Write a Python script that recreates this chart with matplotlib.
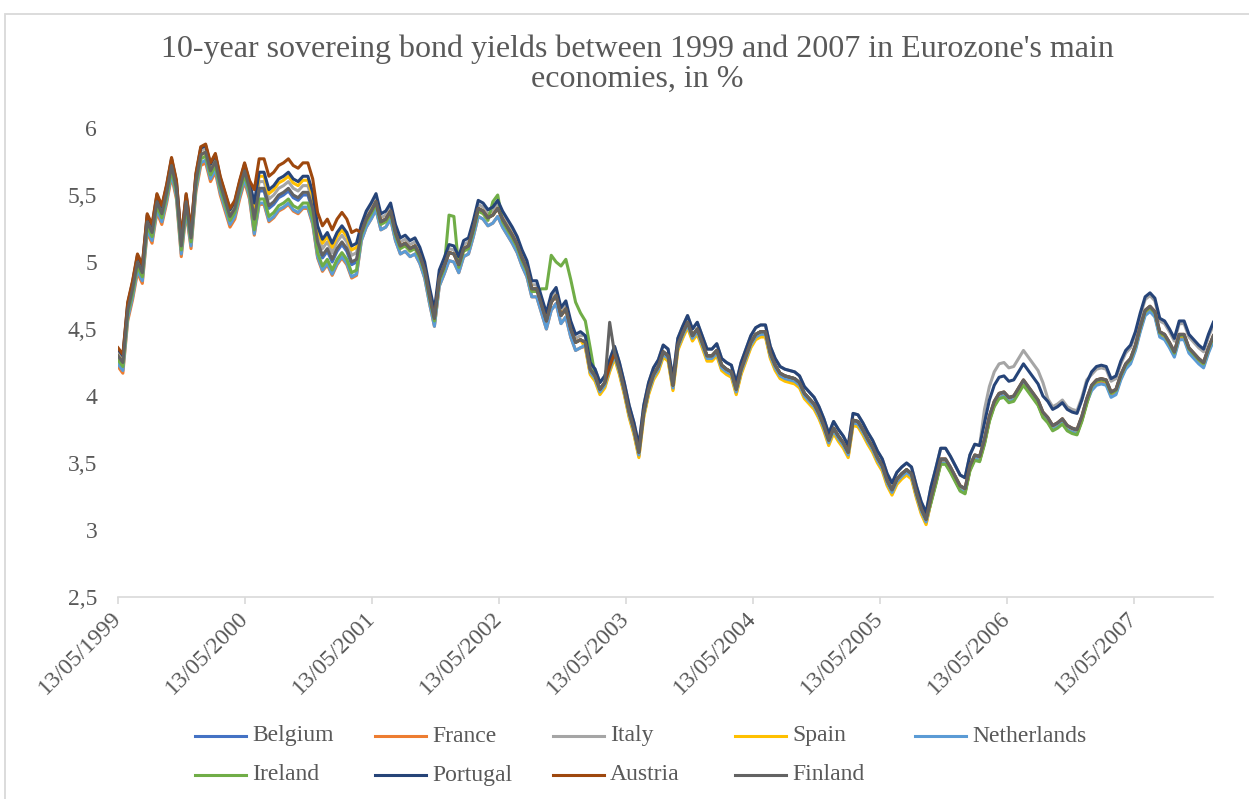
import numpy as np
import pandas as pd
import matplotlib
matplotlib.use('Agg')
import matplotlib.pyplot as plt
from matplotlib.lines import Line2D
from matplotlib.patches import Rectangle
from matplotlib.ticker import FuncFormatter

# Common 10-year yield path (%), one reading every two weeks from 13/05/1999
core_yield = [
    4.30, 4.25, 4.64, 4.80, 5.00, 4.92, 5.30, 5.22, 5.45, 5.36,
    5.52, 5.72, 5.55, 5.12, 5.45, 5.18, 5.60, 5.80, 5.82, 5.68,
    5.75, 5.58, 5.46, 5.34, 5.40, 5.55, 5.68, 5.55, 5.32, 5.55,
    5.55, 5.42, 5.45, 5.50, 5.52, 5.55, 5.50, 5.48, 5.52, 5.52,
    5.40, 5.15, 5.05, 5.10, 5.02, 5.10, 5.15, 5.10, 5.00, 5.02,
    5.22, 5.32, 5.38, 5.45, 5.30, 5.32, 5.38, 5.22, 5.12, 5.14,
    5.10, 5.12, 5.05, 4.94, 4.75, 4.58, 4.88, 4.97, 5.07, 5.06,
    4.98, 5.10, 5.12, 5.25, 5.40, 5.38, 5.33, 5.35, 5.40, 5.32,
    5.26, 5.20, 5.13, 5.03, 4.95, 4.80, 4.80, 4.68, 4.56, 4.70,
    4.75, 4.60, 4.65, 4.50, 4.40, 4.42, 4.40, 4.20, 4.15, 4.05,
    4.10, 4.22, 4.32, 4.20, 4.05, 3.88, 3.75, 3.58, 3.88, 4.05,
    4.16, 4.22, 4.33, 4.30, 4.08, 4.38, 4.47, 4.55, 4.45, 4.50,
    4.40, 4.30, 4.30, 4.34, 4.23, 4.20, 4.18, 4.05, 4.20, 4.30,
    4.40, 4.46, 4.48, 4.48, 4.32, 4.23, 4.17, 4.15, 4.14, 4.13,
    4.10, 4.02, 3.98, 3.94, 3.87, 3.78, 3.67, 3.76, 3.70, 3.65,
    3.58, 3.82, 3.81, 3.75, 3.68, 3.62, 3.54, 3.48, 3.37, 3.30,
    3.38, 3.42, 3.45, 3.42, 3.28, 3.16, 3.08, 3.24, 3.38, 3.53,
    3.53, 3.47, 3.40, 3.33, 3.31, 3.48, 3.56, 3.55, 3.68, 3.85,
    3.96, 4.02, 4.03, 3.99, 4.00, 4.06, 4.12, 4.07, 4.02, 3.97,
    3.88, 3.84, 3.78, 3.80, 3.83, 3.78, 3.76, 3.75, 3.85, 3.98,
    4.08, 4.12, 4.13, 4.12, 4.03, 4.05, 4.16, 4.24, 4.28, 4.38,
    4.52, 4.64, 4.67, 4.63, 4.48, 4.46, 4.40, 4.33, 4.46, 4.46,
    4.36, 4.32, 4.28, 4.25, 4.36, 4.45,
]

# Country spread over the common path: (from date, spread in points)
belgium = [('1999-05-13', 0.00), ('2000-06-01', -0.02), ('2001-04-01', 0.00),
           ('2003-01-15', 0.00), ('2005-10-01', -0.02), ('2007-01-01', -0.02)]
france = [('1999-05-13', -0.08), ('2000-06-01', -0.12), ('2001-04-01', -0.06),
          ('2003-01-15', -0.03), ('2005-10-01', -0.03), ('2007-01-01', -0.03)]
italy = [('1999-05-13', 0.03), ('2000-06-01', 0.05), ('2001-04-01', 0.03),
         ('2003-01-15', 0.05), ('2005-10-01', 0.08), ('2006-03-01', 0.22),
         ('2006-09-01', 0.14), ('2007-01-01', 0.08)]
spain = [('1999-05-13', 0.00), ('2000-06-01', 0.09), ('2001-04-01', 0.00),
         ('2003-01-15', -0.04), ('2005-10-01', -0.03), ('2007-01-01', -0.01)]
netherlands = [('1999-05-13', -0.06), ('2000-06-01', -0.11), ('2001-04-01', -0.06),
               ('2003-01-15', -0.02), ('2005-10-01', -0.03), ('2007-01-01', -0.04)]
ireland = [('1999-05-13', -0.03), ('2000-06-01', -0.08), ('2001-04-01', -0.02),
           ('2001-12-15', 0.28), ('2002-01-08', -0.02), ('2002-04-20', 0.10),
           ('2002-05-20', -0.02), ('2002-09-05', 0.12), ('2002-09-20', 0.24),
           ('2002-10-05', 0.35), ('2002-10-20', 0.25), ('2002-11-01', 0.37),
           ('2002-12-15', 0.30), ('2002-12-28', 0.20), ('2003-01-10', 0.16),
           ('2003-02-08', 0.00), ('2005-10-01', -0.04), ('2007-01-01', -0.01)]
portugal = [('1999-05-13', 0.05), ('2000-06-01', 0.12), ('2001-04-01', 0.06),
            ('2003-01-15', 0.05), ('2005-10-01', 0.08), ('2006-03-01', 0.12),
            ('2007-01-01', 0.10)]
austria = [('1999-05-13', 0.06), ('2000-06-01', 0.22), ('2001-04-01', 0.00),
           ('2003-01-15', 0.00), ('2005-10-01', 0.00), ('2007-01-01', 0.00)]
finland = [('1999-05-13', 0.00), ('2003-03-20', 0.33), ('2003-04-03', 0.00)]

countries = ['Belgium', 'France', 'Italy', 'Spain', 'Netherlands',
             'Ireland', 'Portugal', 'Austria', 'Finland']
spreads = [belgium, france, italy, spain, netherlands,
           ireland, portugal, austria, finland]
colors = ['#4472C4', '#ED7D31', '#A5A5A5', '#FFC000', '#5B9BD5',
          '#70AD47', '#264478', '#9E480E', '#636363']

dates = pd.date_range('1999-05-13', periods=len(core_yield), freq='14D')
tick_dates = pd.to_datetime(['%d-05-13' % y for y in range(1999, 2008)])


def spread_on(steps, when):
    starts = pd.to_datetime([d for d, _ in steps])
    vals = np.array([v for _, v in steps])
    return vals[starts.searchsorted(when, side='right') - 1]


W, H = 1249, 799
txt = '#595959'
plt.rcParams['font.family'] = ['Liberation Serif', 'DejaVu Serif']

fig = plt.figure(figsize=(W / 100, H / 100), dpi=100)
ax = fig.add_axes([118 / W, 1 - 597 / H, (1213.3 - 118) / W, (597 - 128) / H])

base = np.array(core_yield)
for name, steps, c in zip(countries, spreads, colors):
    ax.plot(dates, base + spread_on(steps, dates), color=c, lw=2.2,
            solid_joinstyle='round', label=name)

ax.set_xlim(dates[0], dates[-1])
ax.set_ylim(2.5, 6)
ax.set_yticks(np.arange(2.5, 6.01, 0.5))
ax.yaxis.set_major_formatter(FuncFormatter(lambda v, p: ('%g' % v).replace('.', ',')))
ax.set_xticks(tick_dates)
ax.set_xticklabels([d.strftime('%d/%m/%Y') for d in tick_dates],
                   rotation=45, ha='right', va='center', rotation_mode='anchor')

for s in ['top', 'right', 'left']:
    ax.spines[s].set_visible(False)
ax.spines['bottom'].set_color('#D9D9D9')
ax.spines['bottom'].set_linewidth(1.2)
ax.tick_params(axis='x', length=5, width=1.2, color='#D9D9D9',
               labelcolor=txt, labelsize=17, pad=8)
ax.tick_params(axis='y', length=0, labelcolor=txt, labelsize=17, pad=15)

fig.text(637 / W, 1 - 64 / H,
         "10-year sovereing bond yields between 1999 and 2007 in Eurozone's main\neconomies, in %",
         ha='center', va='center', fontsize=23, color=txt, linespacing=1.02)

# legend laid out in two rows of equal-width slots
col_x = [195, 375, 553, 735, 915]
row_y = [736, 775]
for k, (name, c) in enumerate(zip(countries, colors)):
    x0 = col_x[k % 5]
    y0 = row_y[k // 5]
    fig.add_artist(Line2D([x0 / W, (x0 + 51) / W], [1 - y0 / H, 1 - y0 / H],
                          transform=fig.transFigure, color=c, lw=2.2))
    fig.text((x0 + 57) / W, 1 - y0 / H, name, ha='left', va='center',
             fontsize=17, color=txt)

fig.add_artist(Rectangle((5 / W, -0.05), 1.2, 1.05 - 14 / H, fill=False,
                         edgecolor='#D9D9D9', lw=1.3, transform=fig.transFigure))

fig.savefig('out.png', dpi=100, facecolor='white')
